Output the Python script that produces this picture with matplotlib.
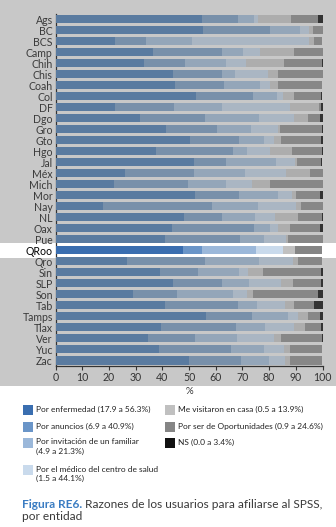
""" Razones de afiliacion al SPSS por entidad """
import matplotlib
matplotlib.use("Agg")
import matplotlib.pyplot as plt
from matplotlib.patches import Rectangle
from matplotlib.transforms import blended_transform_factory

#------------ Data ------------#
estados = ["Ags", "BC", "BCS", "Camp", "Chih", "Chis", "Coah", "Col", "DF", "Dgo",
           "Gro", "Gto", "Hgo", "Jal", "Méx", "Mich", "Mor", "Nay", "NL", "Oax",
           "Pue", "QRoo", "Qro", "Sin", "SLP", "Son", "Tab", "Tamps", "Tlax", "Ver",
           "Yuc", "Zac"]

enfermedad = [54.9, 55.3, 22.3, 36.6, 33.2, 44.1, 44.8, 52.7, 22.3, 31.7,
              41.4, 50.4, 37.7, 51.9, 26.1, 22.0, 52.3, 17.9, 48.2, 43.7,
              41.1, 47.8, 26.8, 39.1, 44.1, 29.1, 41.1, 56.3, 39.6, 34.7,
              38.8, 50.1]
anuncios = [13.5, 25.1, 11.6, 25.8, 15.4, 18.3, 18.4, 21.3, 22.1, 24.4,
            19.1, 18.4, 28.8, 12.0, 25.8, 27.7, 16.5, 40.8, 14.2, 30.7,
            28.1, 7.1, 29.3, 14.4, 18.3, 16.5, 27.3, 17.3, 28.1, 17.6,
            27.0, 19.4]
familiar = [6.0, 11.2, 17.2, 7.9, 15.3, 4.9, 13.5, 9.0, 18.0, 20.2,
            12.8, 9.4, 5.3, 18.7, 19.1, 14.2, 14.6, 17.2, 12.4, 6.0,
            9.0, 20.3, 20.2, 15.3, 10.1, 20.9, 7.1, 13.4, 10.8, 15.7,
            12.4, 10.5]
medico = [1.5, 3.4, 43.8, 6.4, 7.5, 12.4, 3.7, 2.1, 25.5, 13.1,
          10.1, 3.7, 8.6, 7.2, 15.4, 9.8, 5.2, 14.2, 7.5, 3.0,
          8.2, 10.1, 12.7, 3.4, 12.0, 5.3, 10.5, 3.8, 10.9, 13.9,
          7.4, 6.0]
visitaron = [12.4, 1.6, 1.9, 12.7, 14.2, 3.7, 3.0, 4.3, 10.9, 5.2,
             0.5, 2.6, 8.2, 0.5, 9.0, 6.7, 1.5, 1.9, 8.6, 4.5,
             0.7, 4.5, 1.9, 5.4, 4.5, 2.2, 3.4, 3.7, 4.1, 2.6,
             2.3, 1.9]
oportunidades = [10.0, 3.4, 3.2, 10.6, 14.2, 16.6, 16.4, 10.0, 0.7, 4.5,
                 15.9, 14.9, 11.2, 9.1, 4.6, 19.6, 9.0, 8.0, 8.9, 11.2,
                 12.9, 10.2, 9.1, 21.8, 10.4, 24.4, 7.5, 4.6, 5.9, 15.3,
                 12.1, 12.1]
ns = [1.7, 0.0, 0.0, 0.0, 0.2, 0.0, 0.2, 0.6, 0.5, 0.9,
      0.2, 0.6, 0.2, 0.6, 0.0, 0.0, 0.9, 0.0, 0.2, 0.9,
      0.0, 0.0, 0.0, 0.6, 0.6, 1.6, 3.1, 0.9, 0.6, 0.2,
      0.0, 0.0]

series = [enfermedad, anuncios, familiar, medico, visitaron, oportunidades, ns]
etiquetas = ["Por enfermedad (17.9 a 56.3%)",
             "Por anuncios (6.9 a 40.9%)",
             "Por invitación de un familiar\n(4.9 a 21.3%)",
             "Por el médico del centro de salud\n(1.5 a 44.1%)",
             "Me visitaron en casa (0.5 a 13.9%)",
             "Por ser de Oportunidades (0.9 a 24.6%)",
             "NS (0.0 a 3.4%)"]
destacado = "QRoo"

#------------ Style ------------#
colores = ["#3a6eb0", "#6a95c8", "#9bb8da", "#c9daec", "#c0c0c0", "#858585", "#111111"]
colores_dim = ["#5a7ba0", "#7890aa", "#94a6b9", "#aab6c3", "#adadad", "#878787", "#333333"]
FONDO = "#c8c8c8"
plt.rcParams['font.family'] = ['Lato', 'DejaVu Sans']

W, H = 336, 527
fig = plt.figure(figsize=(W / 100, H / 100), dpi=100)
fig.patch.set_facecolor("white")
fig.add_artist(Rectangle((0, 1 - 386 / H), 1, 386 / H, transform=fig.transFigure,
                         facecolor=FONDO, edgecolor="none", zorder=-10))

ax = fig.add_axes([55.5 / W, 1 - 366 / H, 267 / W, 352.5 / H])
ax.set_facecolor("none")

y = list(range(len(estados)))
izq = [0.0] * len(estados)
for serie, c, cd in zip(series, colores, colores_dim):
    cols = [c if e == destacado else cd for e in estados]
    ax.barh(y, serie, left=izq, height=0.73, color=cols, edgecolor="none", zorder=3)
    izq = [a + b for a, b in zip(izq, serie)]

# white band behind highlighted state
i_d = estados.index(destacado)
tr = blended_transform_factory(fig.transFigure, ax.transData)
ax.add_patch(Rectangle((0, i_d - 0.68), 1, 1.36, transform=tr, facecolor="white",
                       edgecolor="none", clip_on=False, zorder=0))

ax.set_ylim(len(estados) - 0.5, -0.5)
ax.set_xlim(0, 100)
ax.set_yticks(y)
ax.set_yticklabels(estados, fontsize=7.6, color="#3a3a3a")
ax.get_yticklabels()[i_d].set_color("black")
ax.set_xticks(range(0, 101, 10))
ax.tick_params(axis="x", labelsize=7.6, colors="#333333", length=3, width=0.8, pad=1.5)
ax.tick_params(axis="y", length=0, pad=2)
for s in ["top", "right"]:
    ax.spines[s].set_visible(False)
for s in ["left", "bottom"]:
    ax.spines[s].set_color("#333333")
    ax.spines[s].set_linewidth(0.9)
ax.set_xlabel("%", fontsize=7, color="#333333", labelpad=3)

#------------ Legend ------------#
leg_pos = [(23, 405), (23, 422), (23, 438), (23, 465), (165, 405), (165, 422), (165, 438)]
for (px, py), c, txt in zip(leg_pos, colores, etiquetas):
    fig.add_artist(Rectangle((px / W, 1 - (py + 10) / H), 10 / W, 10 / H,
                             transform=fig.transFigure, facecolor=c, edgecolor="none"))
    fig.text((px + 13) / W, 1 - (py + 0.5) / H, txt, fontsize=6.0, color="#222222",
             va="top", ha="left", linespacing=1.45)

#------------ Caption ------------#
t1 = fig.text(22 / W, 1 - 505 / H, "Figura RE6.", fontsize=8.6, color="#3a7cc2",
              fontweight="bold", va="center", ha="left")
r = fig.canvas.get_renderer()
x_fin = fig.transFigure.inverted().transform(t1.get_window_extent(r))[1][0]
fig.text(x_fin + 3 / W, 1 - 505 / H, "Razones de los usuarios para afiliarse al SPSS,",
         fontsize=8.6, color="#3a3a3a", va="center", ha="left")
fig.text(22 / W, 1 - 517 / H, "por entidad", fontsize=8.6, color="#3a3a3a",
         va="center", ha="left")

fig.savefig("out.png", dpi=100)
